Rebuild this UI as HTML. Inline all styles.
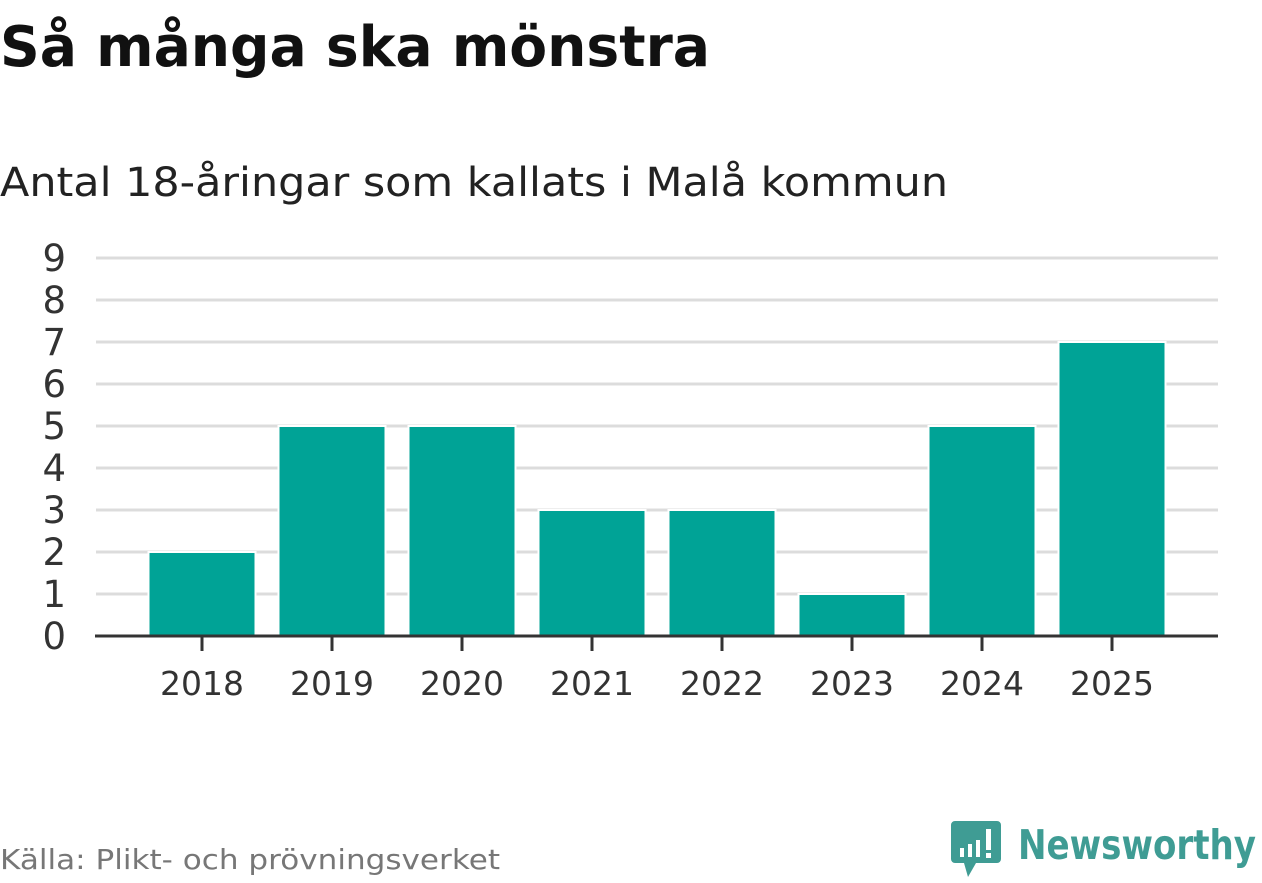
<!DOCTYPE html>
<html><head><meta charset="utf-8"><style>
body{margin:0;width:1262px;height:879px;background:#fff;overflow:hidden;font-family:"DejaVu Sans","Liberation Sans",sans-serif;}
</style></head><body>
<svg width="1262" height="879" xmlns="http://www.w3.org/2000/svg">
<text x="0" y="66" font-size="56" font-weight="bold" fill="#111" textLength="710" lengthAdjust="spacingAndGlyphs">Så många ska mönstra</text>
<text x="0" y="196" font-size="40" fill="#222" textLength="948" lengthAdjust="spacingAndGlyphs">Antal 18-åringar som kallats i Malå kommun</text>
<g id="grid"></g>
<g id="bars"></g>
<g id="axes"></g>
<text x="0" y="869" font-size="28" fill="#777" textLength="500" lengthAdjust="spacingAndGlyphs">Källa: Plikt- och prövningsverket</text>
<g>
<path d="M955 821 h42 a4 4 0 0 1 4 4 v34 a4 4 0 0 1 -4 4 h-21 l-8 14 l-4 -14 h-9 a4 4 0 0 1 -4 -4 v-34 a4 4 0 0 1 4 -4z" fill="#3f9c94"/>
<rect x="960" y="848" width="4" height="9" fill="#fff"/><rect x="968" y="844" width="4" height="13" fill="#fff"/><rect x="976" y="840" width="4" height="17" fill="#fff"/><rect x="986" y="829" width="5" height="21" fill="#fff"/><rect x="986" y="853" width="5" height="5" fill="#fff"/>
<text x="1018" y="859" font-size="41" font-weight="bold" fill="#3f9c94" textLength="238" lengthAdjust="spacingAndGlyphs">Newsworthy</text>
</g>
</svg>
<script>
const years=["2018","2019","2020","2021","2022","2023","2024","2025"];
const values=[2,5,5,3,3,1,5,7];
const yTicks=[0,1,2,3,4,5,6,7,8,9];
const NS="http://www.w3.org/2000/svg";
const x0=137,band=130,bw=107,yBase=636,yTop=258,yMax=9;
const y=v=>yBase-(yBase-yTop)*v/yMax;
const xc=i=>x0+band*i+band/2;
function mk(t,a,p){const e=document.createElementNS(NS,t);for(const k in a)e.setAttribute(k,a[k]);p.appendChild(e);return e;}
const grid=document.getElementById('grid'),bars=document.getElementById('bars'),axes=document.getElementById('axes');
yTicks.forEach(v=>{
 const l=mk('line',{x1:96,x2:1218,y1:y(v),y2:y(v),stroke:'#dcdcdc','stroke-width':3},grid);
 
 
 const t=mk('text',{x:66,y:y(v)+13,'font-size':37,fill:'#333','text-anchor':'end'},axes);
 t.textContent=v;
 
 
});
values.forEach((v,i)=>{
 const r=mk('rect',{x:xc(i)-bw/2,y:y(v),width:bw,height:yBase-y(v),fill:'#00a396',stroke:'#fff','stroke-width':2},bars);
 
 
 const tk=mk('line',{x1:xc(i),x2:xc(i),y1:yBase,y2:yBase+15,stroke:'#333','stroke-width':3},axes);
 
 
 const t=mk('text',{x:xc(i),y:695,'font-size':33,fill:'#333','text-anchor':'middle'},axes);
 t.textContent=years[i];
 
 
});
const ax=mk('line',{x1:95,x2:1218,y1:yBase,y2:yBase,stroke:'#333','stroke-width':3},axes);


</script>
</body></html>
